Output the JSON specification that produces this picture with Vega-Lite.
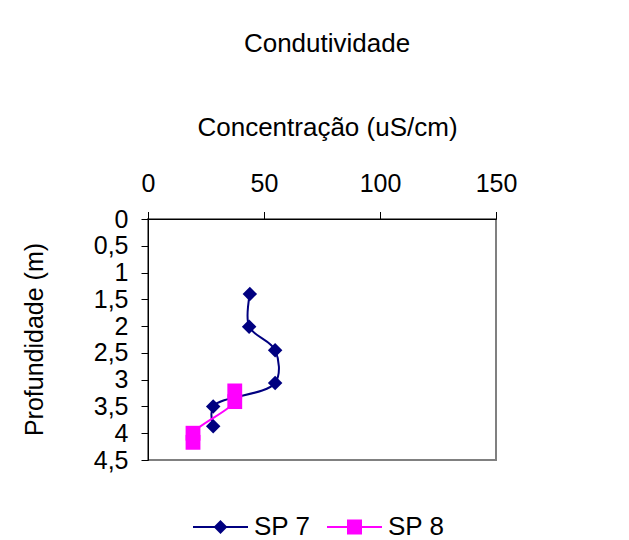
{
  "$schema": "https://vega.github.io/schema/vega-lite/v6.json",
  "width": 348,
  "height": 241,
  "autosize": "none",
  "padding": {"left": 148, "top": 219, "right": 133, "bottom": 80},
  "background": "white",
  "config": {
    "font": "Liberation Sans",
    "view": {"stroke": "#808080", "strokeWidth": 2},
    "axis": {"grid": false, "domainColor": "black", "tickColor": "black", "labelColor": "black", "titleColor": "black", "titleFontWeight": "normal", "labelFlush": false, "labelOverlap": false},
    "legend": {"orient": "none", "legendX": 59.5, "legendY": 295, "direction": "horizontal", "labelFontSize": 26, "labelColor": "black", "symbolSize": 169, "labelOffset": 20.5, "columnPadding": 12, "padding": 0, "symbolStrokeWidth": 2, "symbolOpacity": 1}
  },
  "title": {"text": "Condutividade", "frame": "group", "anchor": "middle", "dx": 5, "fontSize": 26, "fontWeight": "normal", "color": "black", "offset": 57},
  "data": {
    "values": [
      {"series": "SP 7", "ordem": 1, "conc": 43.9, "prof": 1.40},
      {"series": "SP 7", "ordem": 2, "conc": 43.6, "prof": 2.01},
      {"series": "SP 7", "ordem": 3, "conc": 54.8, "prof": 2.45},
      {"series": "SP 7", "ordem": 4, "conc": 54.8, "prof": 3.06},
      {"series": "SP 7", "ordem": 5, "conc": 28.1, "prof": 3.50},
      {"series": "SP 7", "ordem": 6, "conc": 28.1, "prof": 3.87},
      {"series": "SP 8", "ordem": 1, "conc": 37.4, "prof": 3.21},
      {"series": "SP 8", "ordem": 2, "conc": 37.4, "prof": 3.41},
      {"series": "SP 8", "ordem": 3, "conc": 19.4, "prof": 4.00},
      {"series": "SP 8", "ordem": 4, "conc": 19.4, "prof": 4.17}
    ]
  },
  "encoding": {
    "x": {
      "field": "conc", "type": "quantitative",
      "scale": {"domain": [0, 150], "nice": false, "zero": false},
      "axis": {"orient": "top", "values": [0, 50, 100, 150], "title": "Concentração (uS/cm)", "titleFontSize": 26, "titleX": 179, "titleY": -84, "titleAlign": "center", "titleBaseline": "alphabetic", "labelFontSize": 25, "labelPadding": 15, "tickSize": 7.5}
    },
    "y": {
      "field": "prof", "type": "quantitative",
      "scale": {"domain": [0, 4.5], "reverse": true, "nice": false, "zero": false},
      "axis": {"values": [0, 0.5, 1, 1.5, 2, 2.5, 3, 3.5, 4, 4.5], "format": "~g", "labelExpr": "replace(datum.label, '.', ',')", "title": "Profundidade (m)", "titleFontSize": 25, "titleX": -105.5, "titleY": 120, "titleAngle": -90, "titleAlign": "center", "titleBaseline": "alphabetic", "labelFontSize": 25, "labelPadding": 13, "tickSize": 7}
    },
    "color": {"field": "series", "type": "nominal", "scale": {"domain": ["SP 7", "SP 8"], "range": ["#000080", "#FF00FF"]}, "title": null}
  },
  "layer": [
    {
      "transform": [{"filter": "datum.series === 'SP 7'"}],
      "mark": {"type": "line", "interpolate": "catmull-rom", "strokeWidth": 2},
      "encoding": {"order": {"field": "ordem", "type": "quantitative"}}
    },
    {
      "transform": [{"filter": "datum.series === 'SP 7'"}],
      "mark": {"type": "point", "filled": true, "opacity": 1, "size": 210, "shape": "diamond"}
    },
    {
      "transform": [{"filter": "datum.series === 'SP 8'"}],
      "mark": {"type": "line", "interpolate": "catmull-rom", "strokeWidth": 2},
      "encoding": {"order": {"field": "ordem", "type": "quantitative"}}
    },
    {
      "transform": [{"filter": "datum.series === 'SP 8'"}],
      "mark": {"type": "point", "filled": true, "opacity": 1, "size": 220, "shape": "square"}
    },
    {
      "transform": [{"filter": "datum.ordem < 0"}],
      "mark": {"type": "point", "filled": false, "opacity": 1, "strokeWidth": 2},
      "encoding": {
        "shape": {"field": "series", "type": "nominal", "title": null, "scale": {"domain": ["SP 7", "SP 8"], "range": [
          "M-4.23,0H4.23M0,-0.85L0.85,0L0,0.85L-0.85,0ZM0,-0.62L0.62,0L0,0.62L-0.62,0ZM0,-0.38L0.38,0L0,0.38L-0.38,0ZM0,-0.15L0.15,0L0,0.15L-0.15,0Z",
          "M-4.23,0H4.23M-1,-1H1V1H-1ZM-0.77,-0.77H0.77V0.77H-0.77ZM-0.54,-0.54H0.54V0.54H-0.54ZM-0.31,-0.31H0.31V0.31H-0.31ZM-0.08,-0.08H0.08V0.08H-0.08Z"
        ]}}
      }
    }
  ]
}
